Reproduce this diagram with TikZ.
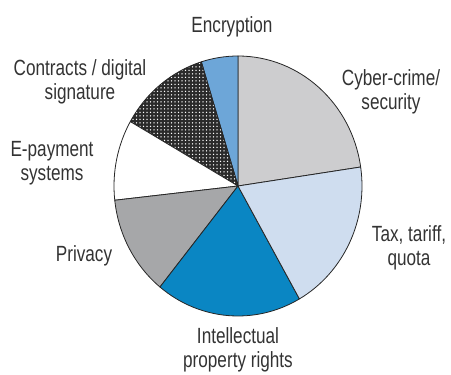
\documentclass[tikz,border=0pt]{standalone}
\usepackage{fontspec}
\setmainfont[FakeStretch=0.78]{Liberation Sans}
\usetikzlibrary{patterns.meta}
\definecolor{cyber}{HTML}{CDCDCF}
\definecolor{encr}{HTML}{6DA6D8}
\definecolor{contr}{HTML}{2A2A2A}
\definecolor{priv}{HTML}{A6A7A9}
\definecolor{ipr}{HTML}{0A86C3}
\definecolor{tax}{HTML}{CFDDEF}
\definecolor{txt}{HTML}{333333}
\begin{document}
\begin{tikzpicture}[x=1pt,y=1pt,
  wedge/.style={draw=black!85, line width=0.8pt, line join=round},
  lbl/.style={text=txt, align=center, inner sep=0pt, font=\fontsize{22}{24}\selectfont}]
\useasboundingbox (0,0) rectangle (451,375);
\coordinate (C) at (238,189);
\newcommand{\pwedge}[3]{%
  \draw[wedge,#3] (C) -- ([shift={(C)}]#1:124pt and 130pt)
    arc[start angle=#1, end angle=#2, x radius=124pt, y radius=130pt] -- cycle;}
\pwedge{8.4}{90}{fill=cyber}
\pwedge{90}{107.2}{fill=encr}
\pwedge{107.2}{150.3}{preaction={fill=contr}, pattern={Dots[distance=3.5pt, radius=0.75pt]}, pattern color=white}
\pwedge{150.3}{186.3}{fill=white}
\pwedge{186.3}{231}{fill=priv}
\pwedge{231}{299.7}{fill=ipr}
\pwedge{299.7}{368.4}{fill=tax}
\node[lbl] (enc) at (232,348) {Encryption};
\node[lbl] (con) at (80,293) {Contracts / digital\\signature};
\node[lbl] (epay) at (52,212) {E-payment\\systems};
\node[lbl] (pri) at (84,119) {Privacy};
\node[lbl] (cyb) at (391,283) {Cyber-crime/\\security};
\node[lbl] (tax) at (409,127) {Tax, tariff,\\quota};
\node[lbl] (ip) at (238,25) {Intellectual\\property rights};
\end{tikzpicture}
\end{document}
